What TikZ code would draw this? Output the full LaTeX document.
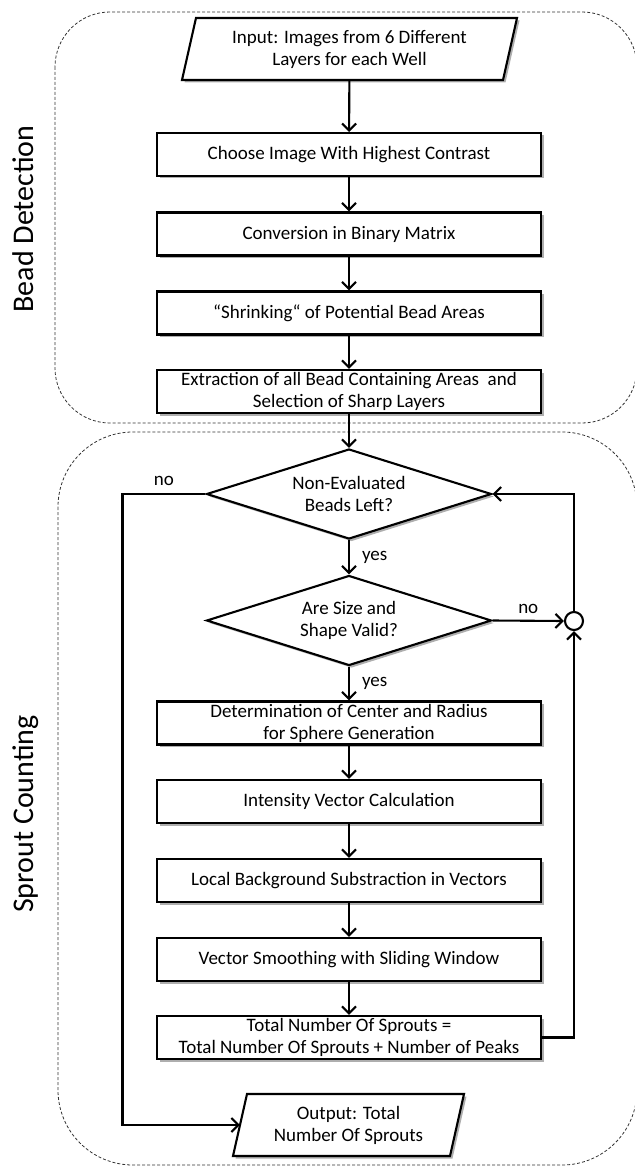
\documentclass[tikz,border=0pt]{standalone}
\usepackage{fontspec}
\setmainfont{Carlito}
\usetikzlibrary{shapes.geometric,arrows.meta,shadows,calc}
\begin{document}
\begin{tikzpicture}[x=1pt,y=-1pt,
  font=\fontsize{19}{22}\selectfont,
  lw/.style={line width=2.1pt},
  shad/.style={drop shadow={shadow xshift=2.5pt,shadow yshift=-2.5pt,fill=black!45,opacity=0.7}},
  procbox/.style={draw,lw,fill=white,shad,minimum width=384pt,minimum height=43pt,inner sep=0pt,align=center},
  decis/.style={diamond,draw,lw,fill=white,shad,minimum width=285pt,minimum height=90pt,aspect=3.17,inner sep=0pt,align=center},
  iobox/.style={inner sep=0pt,align=center},
  iopath/.style={draw,lw,fill=white,shad},
  arr/.style={lw,-{Straight Barb[length=7pt,width=14pt]}},
  group/.style={draw=black!80,line width=0.8pt,dash pattern=on 3pt off 2pt},
  side/.style={rotate=90,anchor=base,inner sep=0pt,font=\fontsize{30}{36}\selectfont},
  lbl/.style={inner sep=0pt}
]
\useasboundingbox (0,0) rectangle (634,1166);
% group containers
\draw[group,rounded corners=55pt] (55,12) rectangle (637,423);
\draw[group,rounded corners=75pt] (58,432) rectangle (637,1165);
\node[side] (bd) at (33,219) {Bead Detection};
\node[side] (sc) at (33,814) {Sprout Counting};

% input
\path[iopath] (182,80) -- (503,80) -- (517,18) -- (196,18) -- cycle;
\node[iobox,minimum width=335pt,minimum height=62pt] (in) at (349.5,49) {Input: Images from 6 Different\\Layers for each Well};

\node[procbox] (choose) at (349,154.5) {Choose Image With Highest Contrast};
\node[procbox] (conv) at (349,234) {Conversion in Binary Matrix};
\node[procbox] (shrink) at (349,313) {“Shrinking“ of Potential Bead Areas};
\node[procbox] (extract) at (349,391.5) {Extraction of all Bead Containing Areas\ \ and\\Selection of Sharp Layers};

\node[decis] (d1) at (349,494) {Non-Evaluated\\Beads Left?};
\node[decis] (d2) at (349,620.5) {Are Size and\\Shape Valid?};

\node[procbox] (det) at (349,723) {Determination of Center and Radius\\for Sphere Generation};
\node[procbox] (inten) at (349,801.5) {Intensity Vector Calculation};
\node[procbox] (local) at (349,880.5) {Local Background Substraction in Vectors};
\node[procbox] (smooth) at (349,959.5) {Vector Smoothing with Sliding Window};
\node[procbox] (total) at (349,1037.5) {Total Number Of Sprouts =\\Total Number Of Sprouts + Number of Peaks};

% output
\path[iopath] (233,1156) -- (450,1156) -- (464,1094) -- (247,1094) -- cycle;
\node[iobox,minimum width=231pt,minimum height=62pt] (out) at (348.5,1125) {Output: Total\\Number Of Sprouts};

\node[circle,draw,lw,fill=white,minimum size=18pt,inner sep=0pt] (c) at (574,621) {};

% connectors
\draw[arr] (in) -- (choose);
\draw[arr] (choose) -- (conv);
\draw[arr] (conv) -- (shrink);
\draw[arr] (shrink) -- (extract);
\draw[arr] (extract) -- (d1);
\draw[arr] (d1) -- node[right=12pt,lbl] {yes} (d2);
\draw[arr] (d2) -- node[right=12pt,lbl] {yes} (det);
\draw[arr] (det) -- (inten);
\draw[arr] (inten) -- (local);
\draw[arr] (local) -- (smooth);
\draw[arr] (smooth) -- (total);
\draw[arr] (d2.east) -- node[above=6pt,lbl] {no} (c.west);
\draw[arr] (total.east) -| (c.south);
\draw[arr] (c.north) |- (d1.east);
\coordinate (lc) at (122.5,1125);
\draw[arr] (d1.west) -- node[above=7pt,lbl] {no} (d1.west -| lc) -- (lc) -- ($(out.west)+(7,0)$);
\end{tikzpicture}
\end{document}
